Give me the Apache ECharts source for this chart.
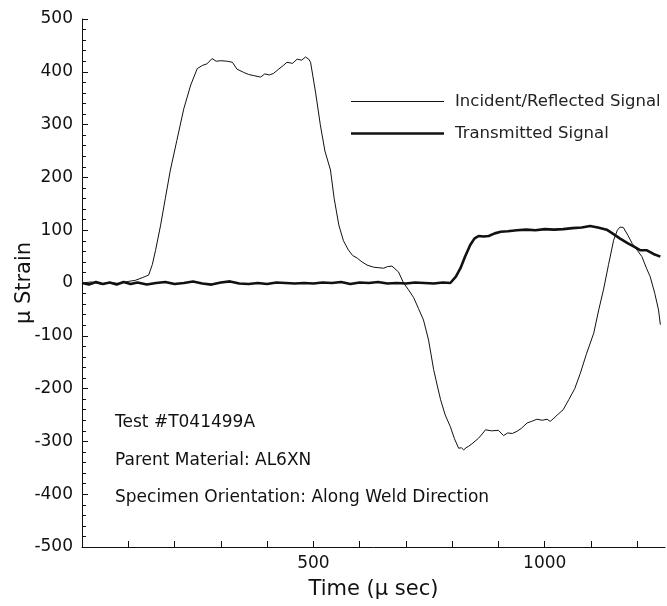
<!DOCTYPE html>
<html>
<head>
<meta charset="utf-8">
<script src="https://cdn.jsdelivr.net/npm/echarts@6/dist/echarts.min.js"></script>
<style>
  html, body { margin: 0; padding: 0; background: #fff; }
  #chart { width: 667px; height: 606px; }
</style>
</head>
<body>
<div id="chart"></div>
<script>
// incident / reflected bar signal (time in micro sec, micro strain)
var incidentTime = [0, 20, 40, 60, 80, 100, 115, 130, 144, 152, 159, 170, 180, 191, 205, 220, 235, 249, 260, 270, 281, 290, 300, 314, 325, 335, 349, 360, 370, 386, 395, 405, 414, 425, 435, 443, 455, 465, 475, 483, 490, 494, 505, 515, 525, 537, 545, 555, 565, 576, 585, 595, 605, 616, 630, 640, 652, 660, 670, 684, 695, 705, 717, 727, 738, 749, 760, 768, 775, 785, 796, 805, 814, 820, 825, 830, 836, 845, 857, 865, 872, 885, 900, 911, 920, 930, 940, 950, 962, 972, 983, 995, 1005, 1012, 1020, 1027, 1040, 1052, 1065, 1077, 1090, 1106, 1117, 1127, 1138, 1149, 1157, 1163, 1170, 1180, 1189, 1200, 1210, 1220, 1228, 1238, 1246, 1250];
var incidentStrain = [0, 2, -2, 1, -1, 3, 5, 10, 15, 35, 62, 110, 160, 214, 270, 330, 375, 406, 412, 415, 425, 420, 421, 420, 418, 405, 399, 395, 393, 390, 396, 394, 397, 405, 412, 418, 416, 424, 422, 428, 424, 418, 360, 300, 250, 214, 160, 110, 80, 62, 52, 47, 40, 34, 30, 29, 28, 31, 32, 21, 0, -12, -28, -48, -70, -108, -164, -195, -221, -250, -272, -295, -313, -312, -316, -312, -309, -303, -294, -286, -278, -280, -279, -289, -284, -285, -281, -275, -265, -262, -258, -260, -258, -262, -256, -250, -240, -221, -200, -171, -135, -95, -50, -13, 35, 81, 100, 106, 105, 90, 75, 62, 50, 28, 12, -20, -51, -79];

// transmitted bar signal
var transmittedTime = [0, 15, 30, 45, 60, 75, 90, 105, 120, 140, 160, 180, 200, 220, 240, 260, 280, 300, 320, 340, 360, 380, 400, 420, 440, 460, 480, 500, 520, 540, 560, 580, 600, 620, 640, 660, 680, 700, 720, 740, 760, 780, 796, 808, 818, 828, 839, 848, 857, 868, 879, 892, 905, 920, 940, 960, 980, 1000, 1020, 1040, 1060, 1080, 1098, 1115, 1134, 1148, 1163, 1180, 1195, 1207, 1221, 1235, 1250];
var transmittedStrain = [0, -3, 2, -2, 1, -3, 2, -2, 1, -3, 0, 2, -2, 0, 3, -1, -3, 1, 3, -1, -2, 0, -2, 1, 0, -1, 0, -1, 1, 0, 2, -2, 1, 0, 2, -1, 0, -1, 1, 0, -1, 1, 0, 12, 28, 50, 72, 84, 89, 88, 89, 94, 97, 98, 100, 101, 100, 102, 101, 102, 104, 105, 108, 105, 101, 93, 84, 75, 68, 62, 62, 55, 50];

var seriesNames = ['Incident/Reflected Signal', 'Transmitted Signal'];
var notes = ['Test #T041499A', 'Parent Material: AL6XN', 'Specimen Orientation: Along Weld Direction'];

function pairs(xs, ys) {
  return xs.map(function (x, i) { return [x, ys[i]]; });
}

var chart = echarts.init(document.getElementById('chart'));
var font = 'DejaVu Sans, sans-serif';

// one legend per entry so each line sample gets its own thickness
function legendFor(name, top, thick) {
  return {
    orient: 'vertical',
    left: 346,
    top: top,
    icon: 'rect',
    itemWidth: 93,
    itemHeight: thick,
    data: [name],
    itemStyle: { color: '#111' },
    textStyle: { fontSize: 16.5, color: '#222', fontFamily: font, padding: [0, 0, 0, 6] }
  };
}

chart.setOption({
  animation: false,
  backgroundColor: '#fff',
  textStyle: { fontFamily: font, color: '#111' },
  grid: { left: 82, right: 2, top: 19, bottom: 59, containLabel: false, outerBoundsMode: 'none' },
  legend: [
    legendFor(seriesNames[0], 88, 1),
    legendFor(seriesNames[1], 120, 2.6)
  ],
  xAxis: {
    type: 'value',
    min: 0,
    max: 1260,
    interval: 100,
    name: 'Time (μ sec)',
    nameLocation: 'middle',
    nameGap: 32,
    nameMoveOverlap: false,
    nameTextStyle: { fontSize: 21, color: '#111', fontFamily: font },
    axisLine: { show: true, onZero: false, lineStyle: { color: '#111', width: 1 } },
    axisTick: { show: true, inside: true, length: 6, lineStyle: { color: '#111' } },
    axisLabel: {
      fontSize: 17, color: '#111', margin: 8, showMaxLabel: false,
      formatter: function (v) { return (v > 0 && v % 500 === 0) ? String(v) : ''; }
    },
    splitLine: { show: false }
  },
  yAxis: {
    type: 'value',
    min: -500,
    max: 500,
    interval: 100,
    name: 'μ Strain',
    nameLocation: 'middle',
    nameGap: 47,
    nameRotate: 90,
    nameMoveOverlap: false,
    nameTextStyle: { fontSize: 21, color: '#111', fontFamily: font },
    axisLine: { show: true, onZero: false, lineStyle: { color: '#111', width: 1 } },
    axisTick: { show: true, inside: true, length: 6, lineStyle: { color: '#111' } },
    minorTick: { show: true, splitNumber: 5, length: 4, lineStyle: { color: '#111' } },
    axisLabel: { fontSize: 17, color: '#111', margin: 9 },
    splitLine: { show: false }
  },
  graphic: notes.map(function (t, i) {
    return {
      type: 'text',
      x: 115,
      y: [423, 461, 498][i],
      style: { text: t, font: '17px ' + font, fill: '#111', verticalAlign: 'middle' }
    };
  }),
  series: [
    {
      name: seriesNames[0],
      type: 'line',
      symbol: 'none',
      data: pairs(incidentTime, incidentStrain),
      lineStyle: { color: '#111', width: 1 },
      itemStyle: { color: '#111' },
      z: 3
    },
    {
      name: seriesNames[1],
      type: 'line',
      symbol: 'none',
      data: pairs(transmittedTime, transmittedStrain),
      lineStyle: { color: '#111', width: 2.6 },
      itemStyle: { color: '#111' },
      z: 2
    }
  ]
});
</script>
</body>
</html>
